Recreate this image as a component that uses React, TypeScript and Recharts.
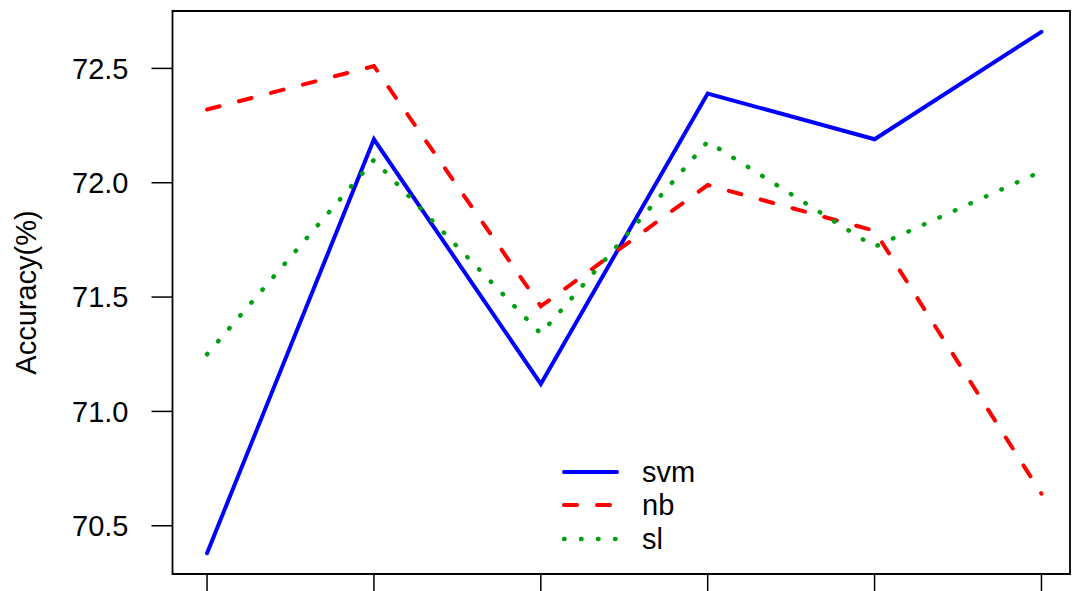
import { LineChart, Line, XAxis, YAxis, ReferenceArea, Legend } from 'recharts';

const runs = [1, 2, 3, 4, 5, 6];
const svm = [70.38, 72.19, 71.12, 72.39, 72.19, 72.66];
const nb = [72.32, 72.51, 71.46, 71.99, 71.79, 70.64];
const sl = [71.25, 72.1, 71.34, 72.18, 71.72, 72.05];
const yTicks = [70.5, 71.0, 71.5, 72.0, 72.5];

const data = runs.map((run, i) => ({ run, svm: svm[i], nb: nb[i], sl: sl[i] }));

const FONT = '"Liberation Sans", Arial, Helvetica, sans-serif';
const X_DOMAIN = [0.793, 6.171];
const Y_DOMAIN = [70.289, 72.751];

const series = [
  { key: 'svm', color: '#0000FF', dash: undefined as string | undefined, width: 4 },
  { key: 'nb', color: '#FF0000', dash: '13 20', width: 4 },
  { key: 'sl', color: '#00A010', dash: '0.5 16.5', width: 4.5 },
];

function LegendBox() {
  return (
    <div style={{ fontFamily: FONT, fontSize: 29, color: '#000' }}>
      {series.map((s) => (
        <div key={s.key} style={{ display: 'flex', alignItems: 'center', height: 33.5 }}>
          <svg width={80} height={34}>
            <line
              x1={2}
              x2={55}
              y1={17}
              y2={17}
              stroke={s.color}
              strokeWidth={s.width}
              strokeDasharray={s.dash}
              strokeLinecap="round"
            />
          </svg>
          <span style={{ lineHeight: '34px' }}>{s.key}</span>
        </div>
      ))}
    </div>
  );
}

function YLabel({ viewBox }: any) {
  const cx = 36;
  const cy = viewBox.y + viewBox.height / 2;
  return (
    <text
      x={cx}
      y={cy}
      transform={`rotate(-90, ${cx}, ${cy})`}
      textAnchor="middle"
      fontFamily={FONT}
      fontSize={29}
      fill="#000"
    >
      Accuracy(%)
    </text>
  );
}

export default function App() {
  return (
    <div style={{ position: 'absolute', left: 0, top: 0, background: '#fff' }}>
      <LineChart
        width={1075}
        height={591}
        data={data}
        margin={{ top: 11, right: 5, bottom: 0, left: 0 }}
      >
        <XAxis
          dataKey="run"
          type="number"
          domain={X_DOMAIN}
          ticks={runs}
          allowDataOverflow
          height={17}
          tickSize={20}
          tickLine={{ stroke: '#000', strokeWidth: 1.5 }}
          axisLine={false}
          tick={() => <g />}
        />
        <YAxis
          type="number"
          domain={Y_DOMAIN}
          ticks={yTicks}
          allowDataOverflow
          width={172.5}
          tickSize={21}
          tickMargin={23}
          axisLine={false}
          tickLine={{ stroke: '#000', strokeWidth: 1.5 }}
          tick={{ fill: '#000', fontSize: 29, fontFamily: FONT }}
          tickFormatter={(v: number) => v.toFixed(1)}
          label={<YLabel />}
        />
        <ReferenceArea
          x1={X_DOMAIN[0]}
          x2={X_DOMAIN[1]}
          y1={Y_DOMAIN[0]}
          y2={Y_DOMAIN[1]}
          fill="none"
          stroke="#000"
          strokeWidth={1.8}
          ifOverflow="visible"
        />
        {series.map((s) => (
          <Line
            key={s.key}
            type="linear"
            dataKey={s.key}
            stroke={s.color}
            strokeWidth={s.width}
            strokeDasharray={s.dash}
            strokeLinecap="round"
            dot={false}
            activeDot={false}
            isAnimationActive={false}
          />
        ))}
        <Legend
          layout="horizontal"
          verticalAlign="middle"
          align="center"
          content={() => <LegendBox />}
          wrapperStyle={{ left: 562, top: 455, width: 'auto' }}
        />
      </LineChart>
    </div>
  );
}
